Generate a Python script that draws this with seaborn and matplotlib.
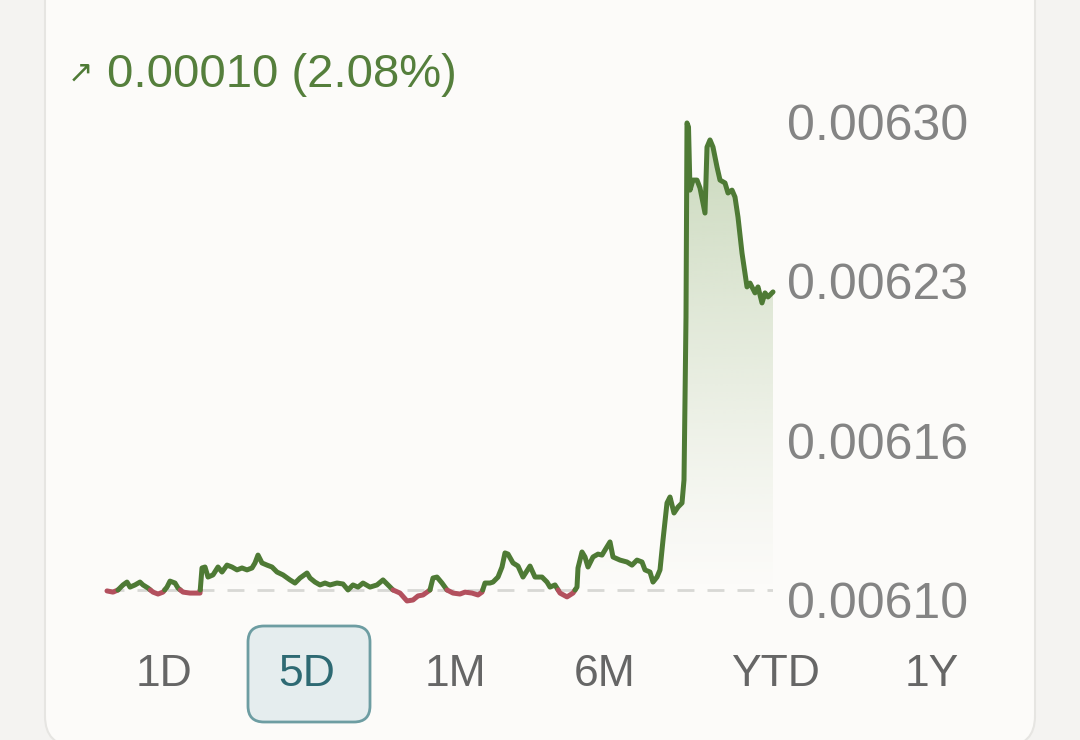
import numpy as np
import pandas as pd
import matplotlib
matplotlib.use("Agg")
import matplotlib.pyplot as plt
import seaborn as sns
from matplotlib.patches import FancyBboxPatch
from matplotlib.transforms import IdentityTransform

# ---------------- data ----------------
time_step = [0, 6, 11, 16, 20, 23, 28, 33, 36, 41, 46, 51, 56, 60, 63, 68, 71, 76, 83, 90,
             93, 95, 98, 101, 106, 111, 115, 120, 125, 130, 135, 140, 145, 148, 151, 155, 160,
             165, 170, 176, 183, 188, 193, 200, 203, 208, 213, 218, 223, 230, 236, 241, 246,
             251, 256, 263, 270, 276, 281, 286, 293, 300, 306, 311, 316, 323, 326, 330, 335,
             340, 346, 353, 358, 365, 371, 375, 378, 383, 386, 391, 395, 398, 401, 406, 411,
             416, 423, 428, 435, 440, 443, 448, 453, 460, 466, 470, 471, 475, 478, 481, 486,
             491, 495, 498, 503, 506, 513, 520, 525, 530, 535, 538, 543, 546, 550, 553, 556,
             560, 563, 567, 571, 575, 577, 578, 579, 580, 581.5, 583, 586, 590, 593, 598, 600,
             603, 606, 610, 613, 618, 621, 625, 628, 631, 635, 640, 643, 648, 651, 655, 658,
             661, 666]
price = [0.0061038, 0.0061033, 0.0061042, 0.0061063, 0.0061075, 0.0061054, 0.0061063,
         0.0061075, 0.0061063, 0.0061050, 0.0061033, 0.0061025, 0.0061033, 0.0061054,
         0.0061079, 0.0061071, 0.0061050, 0.0061033, 0.0061029, 0.0061029, 0.0061029,
         0.0061134, 0.0061138, 0.0061096, 0.0061105, 0.0061138, 0.0061117, 0.0061146,
         0.0061138, 0.0061126, 0.0061134, 0.0061126, 0.0061134, 0.0061155, 0.0061188,
         0.0061155, 0.0061146, 0.0061138, 0.0061117, 0.0061105, 0.0061084, 0.0061071,
         0.0061092, 0.0061113, 0.0061092, 0.0061075, 0.0061063, 0.0061071, 0.0061063,
         0.0061071, 0.0061067, 0.0061042, 0.0061063, 0.0061054, 0.0061071, 0.0061054,
         0.0061063, 0.0061084, 0.0061063, 0.0061042, 0.0061029, 0.0060996, 0.0061000,
         0.0061017, 0.0061021, 0.0061042, 0.0061092, 0.0061096, 0.0061071, 0.0061042,
         0.0061029, 0.0061025, 0.0061033, 0.0061029, 0.0061021, 0.0061033, 0.0061071,
         0.0061071, 0.0061075, 0.0061096, 0.0061138, 0.0061197, 0.0061192, 0.0061155,
         0.0061142, 0.0061096, 0.0061142, 0.0061096, 0.0061096, 0.0061075, 0.0061054,
         0.0061063, 0.0061029, 0.0061013, 0.0061029, 0.0061054, 0.0061134, 0.0061201,
         0.0061180, 0.0061138, 0.0061180, 0.0061192, 0.0061188, 0.0061209, 0.0061243,
         0.0061180, 0.0061167, 0.0061159, 0.0061146, 0.0061167, 0.0061159, 0.0061126,
         0.0061117, 0.0061075, 0.0061096, 0.0061126, 0.0061251, 0.0061406, 0.0061431,
         0.0061364, 0.0061389, 0.0061406, 0.0061502, 0.0061837, 0.0062184, 0.0062996,
         0.0062979, 0.0062715, 0.0062757, 0.0062757, 0.0062724, 0.0062619, 0.0062895,
         0.0062925, 0.0062895, 0.0062812, 0.0062757, 0.0062745, 0.0062703, 0.0062715,
         0.0062686, 0.0062602, 0.0062452, 0.0062310, 0.0062326, 0.0062285, 0.0062310,
         0.0062243, 0.0062285, 0.0062268, 0.0062289]
previous_close = 0.0061042
ytick_values = [0.0061, 0.0061 + 0.0002 / 3, 0.0061 + 0.0004 / 3, 0.0063]
ytick_labels = ["0.00610", "0.00616", "0.00623", "0.00630"]
change_text = "0.00010 (2.08%)"
ranges = ["1D", "5D", "1M", "6M", "YTD", "1Y"]
selected_range = "5D"

# ---------------- style ----------------
W, H = 1080, 740
GREEN = "#4e7a35"
RED = "#b3505e"
BG_OUT = "#f4f3f1"
BG_CARD = "#fcfbf9"

sns.set_theme(style="white")
plt.rcParams["font.family"] = ["Liberation Sans", "DejaVu Sans"]

fig = plt.figure(figsize=(W / 100, H / 100), dpi=100)
fig.patch.set_facecolor(BG_OUT)

# card
card = FancyBboxPatch((45, -6), 990, 900, boxstyle="round,pad=0,rounding_size=30",
                      transform=IdentityTransform(), facecolor=BG_CARD,
                      edgecolor="#e6e5e2", linewidth=1.5, zorder=-5)
fig.patches.append(card)

def fx(px):
    return px / W

def fy(py):
    return 1 - py / H

ax = fig.add_axes([fx(107), fy(600), fx(773) - fx(107), fy(122) - fy(600)])
ax.set_zorder(2)
ax.set_facecolor("none")
for s in ax.spines.values():
    s.set_visible(False)

# ---------------- segments split at previous close ----------------
rows = []
seg = 0
for i in range(len(time_step)):
    t, p = time_step[i], price[i]
    if i > 0:
        t0, p0 = time_step[i - 1], price[i - 1]
        up0, up1 = p0 >= previous_close, p >= previous_close
        if up0 != up1:
            tc = t0 + (previous_close - p0) / (p - p0) * (t - t0)
            rows.append((tc, previous_close, seg, "up" if up0 else "down"))
            seg += 1
            rows.append((tc, previous_close, seg, "up" if up1 else "down"))
    rows.append((t, p, seg, "up" if p >= previous_close else "down"))
df = pd.DataFrame(rows, columns=["t", "price", "seg", "dir"])
dirs = df.groupby("seg")["dir"].first()
palette = {s: (GREEN if d == "up" else RED) for s, d in dirs.items()}

# gradient fill below the line
poly = ax.fill_between(time_step, price, previous_close, color="none", lw=0)
n = 256
alpha = np.linspace(0, 1, n).reshape(-1, 1) ** 1.2
rgba = np.zeros((n, 1, 4))
rgba[..., 0], rgba[..., 1], rgba[..., 2] = matplotlib.colors.to_rgb("#c0d2b0")
rgba[..., 3] = alpha * 0.85
img = ax.imshow(rgba, extent=[0, 666, previous_close, 0.0063], origin="lower",
                aspect="auto", zorder=1, interpolation="bilinear")
path = poly.get_paths()[0]
img.set_clip_path(path, ax.transData)

# dashed previous close
ax.axhline(previous_close, color="#d8d8d5", lw=2, linestyle=(0, (6.1, 4.7)), zorder=1.5)

sns.lineplot(data=df, x="t", y="price", hue="seg", palette=palette, estimator=None,
             sort=False, legend=False, ax=ax, clip_on=False, zorder=3,
             solid_capstyle="round", solid_joinstyle="round")
for ln in ax.get_lines():
    if ln.get_linestyle() == "-":
        ln.set_linewidth(3.6)

ax.set_xlim(0, 666)
ax.set_ylim(0.0061, 0.0063)
ax.set_xticks([])
ax.set_xlabel("")
ax.set_ylabel("")
ax.yaxis.tick_right()
ax.set_yticks(ytick_values)
ax.set_yticklabels(ytick_labels)
ax.tick_params(axis="y", length=0, pad=10, labelsize=36, labelcolor="#848484")

# header
fig.text(fx(80), fy(73), "\u2197", ha="center", va="center", fontsize=22,
         color=GREEN, family=["DejaVu Sans"])
fig.text(fx(107), fy(75), change_text, ha="left", va="center", fontsize=34, color="#557f3c")

# range buttons
btn_x = [164, 307, 455, 605, 775, 932]
box = FancyBboxPatch((248, H - 722), 122, 96, boxstyle="round,pad=0,rounding_size=16",
                     transform=IdentityTransform(), facecolor="#e5edee",
                     edgecolor="#6d9da2", linewidth=2, zorder=1)
fig.patches.append(box)
for lab, x in zip(ranges, btn_x):
    sel = lab == selected_range
    fig.text(fx(x), fy(675), lab, ha="center", va="center", fontsize=32,
             color="#2e6a73" if sel else "#666666", zorder=2)

fig.savefig("out.png", dpi=100, facecolor=fig.get_facecolor())
